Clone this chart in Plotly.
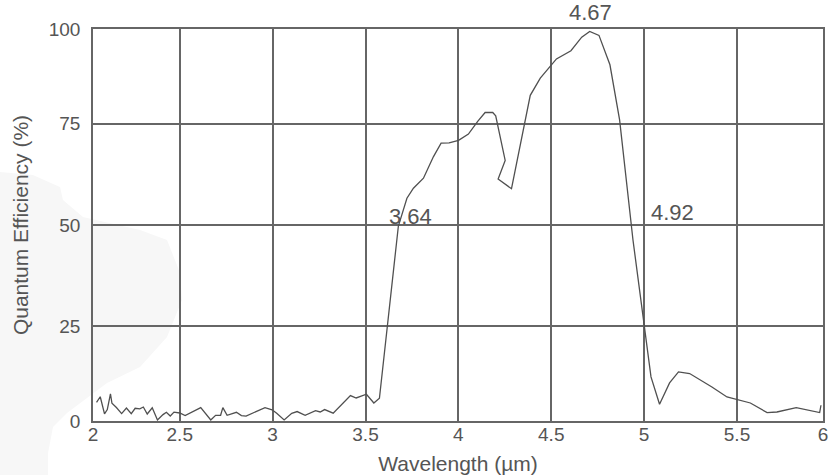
import plotly.graph_objects as go

# Wavelength (µm)
wavelength = [
    2.052, 2.072, 2.095, 2.110, 2.127, 2.135, 2.159, 2.187, 2.213, 2.239,
    2.260, 2.285, 2.304, 2.325, 2.352, 2.380, 2.410, 2.428, 2.449, 2.469,
    2.500, 2.529, 2.613, 2.667, 2.693, 2.720, 2.732, 2.755, 2.805, 2.832,
    2.857, 2.959, 2.997, 3.022, 3.062, 3.103, 3.132, 3.175, 3.231, 3.256,
    3.280, 3.326, 3.419, 3.450, 3.505, 3.545, 3.575, 3.677, 3.723, 3.758,
    3.812, 3.866, 3.907, 3.950, 4.001, 4.054, 4.104, 4.144, 4.185, 4.201,
    4.252, 4.214, 4.286, 4.387, 4.441, 4.528, 4.606, 4.664, 4.707, 4.757,
    4.816, 4.868, 4.940, 5.001, 5.037, 5.083, 5.137, 5.185, 5.245, 5.365,
    5.446, 5.572, 5.662, 5.715, 5.819, 5.945, 5.952,
]
# Quantum efficiency (%)
efficiency = [
    6.19, 7.55, 3.34, 4.38, 8.29, 5.94, 4.88, 3.39, 4.78, 3.39,
    4.70, 4.58, 5.02, 3.29, 4.83, 1.81, 3.14, 3.71, 2.80, 3.76,
    3.54, 2.92, 4.88, 1.81, 2.97, 2.97, 4.88, 2.97, 3.71, 2.90,
    2.77, 4.88, 4.33, 3.47, 1.81, 3.47, 3.89, 2.97, 4.13, 3.79,
    4.38, 3.51, 7.85, 7.25, 8.17, 6.01, 7.18, 49.75, 56.61, 59.08,
    61.56, 66.91, 70.22, 70.30, 70.92, 72.48, 75.62, 77.80, 77.80, 76.98,
    65.97, 61.34, 58.96, 82.05, 86.31, 91.04, 93.07, 96.41, 97.85, 96.86,
    89.60, 75.99, 46.29, 25.00, 12.45, 5.69, 10.97, 13.69, 13.29, 9.98,
    7.50, 6.01, 3.64, 3.79, 4.88, 3.64, 5.45,
]

x_tickvals = [2.033, 2.5, 3.0, 3.5, 4.0, 4.5, 5.0, 5.5, 5.963]
x_ticktext = ["2", "2.5", "3", "3.5", "4", "4.5", "5", "5.5", "6"]
y_tickvals = [1.56, 25, 50, 75, 98.44]
y_ticktext = ["0", "25", "50", "75", "100"]

# peak / cut-off labels (wavelength position, efficiency position, text)
label_x = [4.710, 3.740, 5.152]
label_y = [98.44, 51.98, 53.2]
label_text = ["4.67", "3.64", "4.92"]
label_lift = [17, 0, 0]

TXT = "#555555"
GRID = "#666666"
FONT = "Liberation Sans, Arial, sans-serif"

fig = go.Figure()
fig.add_trace(go.Scatter(
    x=wavelength, y=efficiency, mode="lines",
    line=dict(color="#505050", width=1.3),
    showlegend=False, hoverinfo="x+y",
))

for lx, ly, lt, lift in zip(label_x, label_y, label_text, label_lift):
    fig.add_annotation(x=lx, y=ly, text=lt, showarrow=False, yshift=lift,
                       font=dict(family=FONT, size=22, color=TXT))

# faint background watermark blob (decorative)
blob = [(-0.1274, 0.635), (-0.0822, 0.6276), (-0.0452, 0.597), (-0.0411, 0.5638),
        (-0.0137, 0.5204), (0.0644, 0.4872), (0.1014, 0.4617), (0.1192, 0.3776),
        (0.1219, 0.3087), (0.1014, 0.2143), (0.0644, 0.1378), (0.0192, 0.0969),
        (-0.0356, 0.0204), (-0.0548, -0.0153), (-0.0616, -0.0816), (-0.0616, -0.1378),
        (-0.1274, -0.1378)]
path = "M " + " L ".join(f"{a},{b}" for a, b in blob) + " Z"
fig.add_shape(type="path", path=path, xref="paper", yref="paper",
              fillcolor="#f7f7f7", line=dict(width=0), layer="below")

fig.update_layout(
    width=839, height=475,
    margin=dict(l=93, r=16, t=29, b=54),
    paper_bgcolor="white", plot_bgcolor="rgba(0,0,0,0)",
    font=dict(family=FONT, color=TXT, size=19),
    xaxis=dict(
        range=[2.033, 5.963], tickmode="array", tickvals=x_tickvals, ticktext=x_ticktext,
        showgrid=True, gridcolor=GRID, gridwidth=1.5, showline=True, linecolor=GRID,
        linewidth=1.5, mirror=True, zeroline=False, ticks="", ticklabelstandoff=-5,
        tickfont=dict(size=19, color=TXT), automargin=False,
        title=dict(text="Wavelength (µm)", font=dict(size=21, color=TXT), standoff=19),
    ),
    yaxis=dict(
        range=[1.56, 98.44], tickmode="array", tickvals=y_tickvals, ticktext=y_ticktext,
        showgrid=True, gridcolor=GRID, gridwidth=1.5, showline=True, linecolor=GRID,
        linewidth=1.5, mirror=True, zeroline=False, ticks="", ticklabelstandoff=7,
        tickfont=dict(size=19, color=TXT), automargin=False,
        title=dict(text="Quantum Efficiency (%)", font=dict(size=21, color=TXT), standoff=14),
    ),
)

fig.write_html("out.html", config={"displayModeBar": False},
               post_script="document.body.style.margin='0';")
